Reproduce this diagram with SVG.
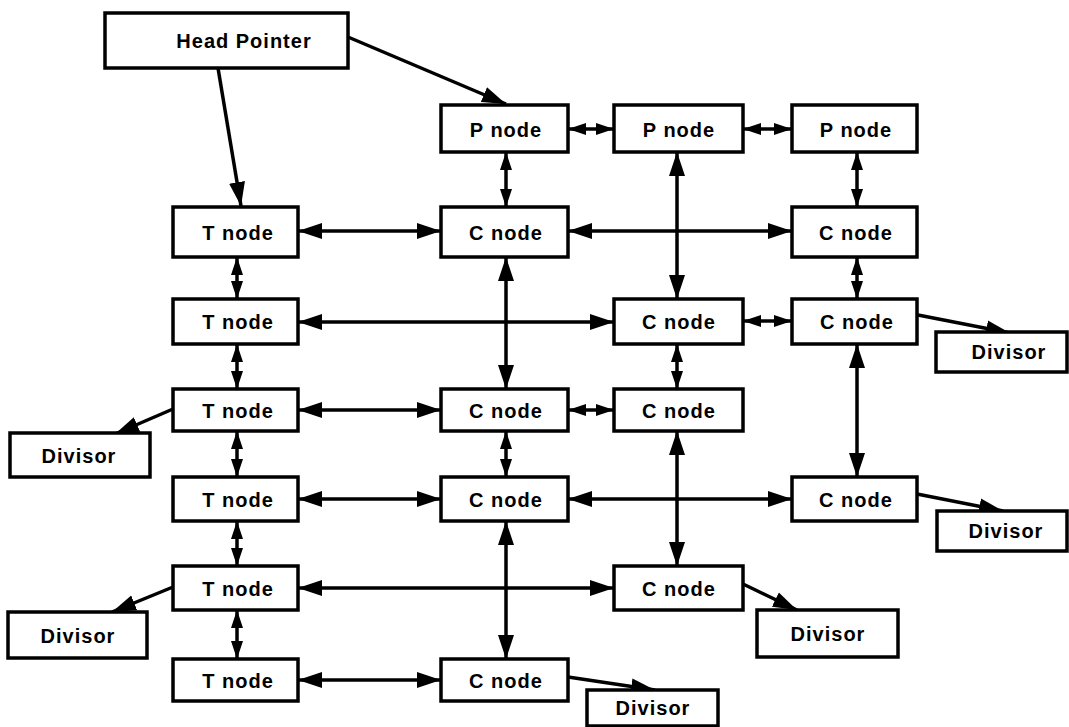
<svg xmlns="http://www.w3.org/2000/svg" width="1069" height="727" viewBox="0 0 1069 727">
<defs>
<style>
.box{fill:#fff;stroke:#000;stroke-width:3.5}
.lbl{font-family:"Liberation Sans",Arial,Helvetica,sans-serif;font-size:20px;font-weight:bold;letter-spacing:1px;text-anchor:middle;fill:#000}
.c{fill:none;stroke:#000;stroke-width:3.5}
.b2{marker-start:url(#big);marker-end:url(#big)}
.s2{marker-start:url(#small);marker-end:url(#small)}
.b1{marker-end:url(#big)}
</style>
<marker id="big" markerUnits="userSpaceOnUse" markerWidth="24" markerHeight="18" refX="24" refY="9" orient="auto-start-reverse" viewBox="0 0 24 18"><path d="M0,1 L24,9 L0,17 z" fill="#000"/></marker>
<marker id="small" markerUnits="userSpaceOnUse" markerWidth="18" markerHeight="14" refX="18" refY="7" orient="auto-start-reverse" viewBox="0 0 18 14"><path d="M0,1 L18,7 L0,13 z" fill="#000"/></marker>
</defs>
<rect width="1069" height="727" fill="#fff"/>
<g id="connectors">
<path class="c b1" d="M348,37 L506,104"/>
<path class="c b1" d="M218,68 L241,206"/>
<path class="c s2" d="M568,129 L614,129"/>
<path class="c s2" d="M743,129 L792,129"/>
<path class="c s2" d="M506,152 L506,207"/>
<path class="c s2" d="M857,152 L857,207"/>
<path class="c b2" d="M677,152 L677,299"/>
<path class="c b2" d="M298,231 L441,231"/>
<path class="c b2" d="M568,231 L792,231"/>
<path class="c s2" d="M237,257 L237,299"/>
<path class="c b2" d="M298,322 L614,322"/>
<path class="c s2" d="M743,321 L792,321"/>
<path class="c b1" d="M918,315 L1010,333"/>
<path class="c s2" d="M857,257 L857,299"/>
<path class="c b2" d="M506,257 L506,389"/>
<path class="c s2" d="M677,344 L677,389"/>
<path class="c b2" d="M857,344 L857,477"/>
<path class="c s2" d="M237,344 L237,389"/>
<path class="c b1" d="M173,409 L115,434"/>
<path class="c b2" d="M298,410 L441,410"/>
<path class="c s2" d="M568,410 L614,410"/>
<path class="c s2" d="M237,431 L237,477"/>
<path class="c s2" d="M506,431 L506,477"/>
<path class="c b2" d="M677,431 L677,566"/>
<path class="c b2" d="M298,499 L441,499"/>
<path class="c b2" d="M568,499 L792,499"/>
<path class="c b1" d="M917,494 L1003,511"/>
<path class="c s2" d="M237,521 L237,566"/>
<path class="c b2" d="M506,521 L506,659"/>
<path class="c b2" d="M298,588 L614,588"/>
<path class="c b1" d="M173,587 L112,612"/>
<path class="c b1" d="M743,584 L797,610"/>
<path class="c s2" d="M237,610 L237,659"/>
<path class="c b2" d="M298,680 L441,680"/>
<path class="c b1" d="M568,677 L655,690"/>
</g>
<g id="head"><rect class="box" x="105" y="13" width="243" height="55"/><text class="lbl" x="244" y="48">Head Pointer</text></g>
<g id="p1"><rect class="box" x="441" y="105" width="127" height="47"/><text class="lbl" x="506" y="137">P node</text></g>
<g id="p2"><rect class="box" x="614" y="105" width="129" height="47"/><text class="lbl" x="679" y="137">P node</text></g>
<g id="p3"><rect class="box" x="792" y="105" width="125" height="47"/><text class="lbl" x="856" y="137">P node</text></g>
<g id="t1"><rect class="box" x="173" y="207" width="125" height="50"/><text class="lbl" x="238" y="240">T node</text></g>
<g id="t2"><rect class="box" x="173" y="299" width="125" height="45"/><text class="lbl" x="238" y="329">T node</text></g>
<g id="t3"><rect class="box" x="173" y="389" width="125" height="42"/><text class="lbl" x="238" y="418">T node</text></g>
<g id="t4"><rect class="box" x="173" y="477" width="125" height="44"/><text class="lbl" x="238" y="507">T node</text></g>
<g id="t5"><rect class="box" x="173" y="566" width="125" height="44"/><text class="lbl" x="238" y="596">T node</text></g>
<g id="t6"><rect class="box" x="173" y="659" width="125" height="42"/><text class="lbl" x="238" y="688">T node</text></g>
<g id="c21"><rect class="box" x="441" y="207" width="127" height="50"/><text class="lbl" x="506" y="240">C node</text></g>
<g id="c41"><rect class="box" x="792" y="207" width="125" height="50"/><text class="lbl" x="856" y="240">C node</text></g>
<g id="c32"><rect class="box" x="614" y="299" width="129" height="45"/><text class="lbl" x="679" y="329">C node</text></g>
<g id="c42"><rect class="box" x="792" y="299" width="125" height="45"/><text class="lbl" x="857" y="329">C node</text></g>
<g id="c23"><rect class="box" x="441" y="389" width="127" height="42"/><text class="lbl" x="506" y="418">C node</text></g>
<g id="c33"><rect class="box" x="614" y="389" width="129" height="42"/><text class="lbl" x="679" y="418">C node</text></g>
<g id="c24"><rect class="box" x="441" y="477" width="127" height="44"/><text class="lbl" x="506" y="507">C node</text></g>
<g id="c44"><rect class="box" x="792" y="477" width="125" height="44"/><text class="lbl" x="856" y="507">C node</text></g>
<g id="c35"><rect class="box" x="614" y="566" width="129" height="44"/><text class="lbl" x="679" y="596">C node</text></g>
<g id="c26"><rect class="box" x="441" y="659" width="127" height="42"/><text class="lbl" x="506" y="688">C node</text></g>
<g id="dl3"><rect class="box" x="10" y="433" width="140" height="44"/><text class="lbl" x="79" y="463">Divisor</text></g>
<g id="dl5"><rect class="box" x="8" y="612" width="139" height="46"/><text class="lbl" x="78" y="643">Divisor</text></g>
<g id="dr2"><rect class="box" x="936" y="332" width="131" height="40"/><text class="lbl" x="1009" y="359">Divisor</text></g>
<g id="dr4"><rect class="box" x="937" y="511" width="130" height="40"/><text class="lbl" x="1006" y="538">Divisor</text></g>
<g id="dm5"><rect class="box" x="757" y="610" width="141" height="47"/><text class="lbl" x="828" y="641">Divisor</text></g>
<g id="db"><rect class="box" x="587" y="690" width="131" height="36"/><text class="lbl" x="653" y="715">Divisor</text></g>
</svg>
